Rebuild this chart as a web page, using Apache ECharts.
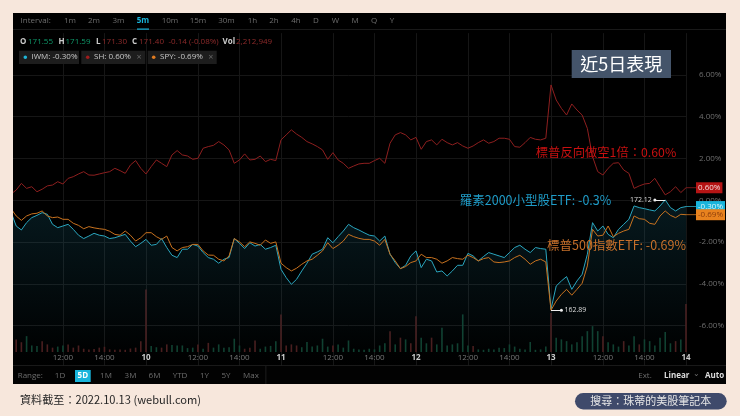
<!DOCTYPE html>
<html>
<head>
<meta charset="utf-8">
<style>body{margin:0;background:#f7e7dc}#main{width:740px;height:416px}</style>
</head>
<body>
<div id="main"></div>
<script src="https://cdn.jsdelivr.net/npm/echarts@6/dist/echarts.min.js"></script>
<script>
var chart = echarts.init(document.getElementById('main'));

// percent change, one reading per 15 minutes
var shValues = [0.30,0.49,0.81,0.57,0.65,0.41,0.53,0.69,0.73,0.89,0.78,1.05,1.13,1.26,1.37,1.21,1.20,1.26,1.32,1.37,1.53,1.42,1.29,1.69,1.90,1.53,1.26,
    1.61,1.93,1.77,1.61,2.17,2.38,2.17,2.12,1.96,2.01,2.49,2.57,2.63,2.81,2.65,2.41,1.77,1.93,2.22,1.93,1.96,2.12,1.85,1.96,1.90,
    2.89,3.13,3.37,3.17,3.01,2.81,2.70,2.57,2.41,1.96,2.28,1.93,1.77,1.53,1.64,1.74,1.77,1.77,1.90,2.01,1.77,2.73,3.13,3.24,3.13,2.89,
    3.01,2.44,2.81,2.89,2.65,2.92,2.76,2.65,2.76,2.60,2.49,2.60,2.76,2.89,2.73,2.81,2.97,2.97,2.92,2.57,2.54,2.76,3.01,2.92,2.89,2.97,
    5.52,4.80,4.40,4.08,4.61,4.32,4.08,3.44,2.09,1.37,1.21,1.53,1.77,1.80,1.45,1.29,0.57,0.69,0.78,0.81,1.05,0.65,0.26,0.41,0.65,0.37,0.60];
var spyValues = [-0.40,-0.75,-0.96,-0.75,-0.65,-0.62,-0.51,-0.75,-0.83,-0.80,-0.91,-0.91,-1.10,-1.20,-1.36,-1.26,-1.32,-1.36,-1.39,-1.48,-1.63,-1.67,-1.47,-1.67,-1.95,-1.79,-1.55,
    -1.55,-1.74,-1.87,-1.71,-2.26,-2.42,-2.26,-2.22,-2.11,-2.11,-2.42,-2.62,-2.63,-2.82,-2.90,-2.66,-1.83,-1.99,-2.22,-1.99,-2.06,-2.15,-1.90,-2.06,-1.99,
    -3.01,-3.22,-3.38,-3.25,-3.06,-2.90,-2.82,-2.63,-2.42,-2.03,-2.31,-2.15,-1.95,-1.63,-1.74,-1.82,-1.87,-1.87,-1.95,-2.15,-1.87,-2.58,-2.90,-3.27,-3.17,-2.98,
    -2.90,-2.58,-2.74,-2.74,-2.82,-3.01,-2.90,-2.74,-2.79,-2.82,-2.63,-2.74,-2.90,-2.79,-2.74,-2.95,-2.98,-2.95,-2.90,-2.74,-2.63,-2.82,-3.06,-2.90,-2.82,-2.95,
    -5.26,-4.82,-4.50,-4.26,-4.54,-4.26,-3.97,-3.14,-1.39,-1.71,-1.67,-1.23,-1.74,-1.58,-1.47,-1.39,-0.75,-0.88,-0.91,-1.10,-1.15,-0.75,-0.51,-0.72,-0.83,-0.67,-0.69];
var iwmValues = [-0.56,-1.23,-1.42,-1.07,-0.83,-0.72,-0.59,-0.67,-1.15,-1.31,-1.23,-1.15,-1.39,-1.67,-1.83,-1.71,-1.58,-1.67,-1.71,-1.83,-1.79,-1.71,-1.63,-1.95,-2.22,-2.06,-1.87,
    -2.15,-2.11,-1.83,-2.26,-2.63,-2.74,-2.34,-2.34,-2.11,-2.19,-2.50,-2.74,-2.82,-3.01,-2.82,-2.74,-1.83,-2.06,-2.31,-2.03,-2.19,-2.11,-2.34,-2.26,-2.15,
    -3.30,-3.70,-4.02,-3.78,-3.38,-3.01,-2.58,-2.47,-2.34,-1.79,-2.03,-1.74,-1.47,-1.15,-1.31,-1.42,-1.55,-1.67,-1.71,-1.95,-1.71,-2.58,-2.98,-3.27,-3.11,-2.66,
    -2.42,-3.22,-2.82,-2.90,-3.43,-3.38,-3.62,-3.38,-3.11,-3.11,-2.54,-2.66,-2.90,-2.69,-2.50,-2.58,-2.66,-2.74,-2.50,-2.26,-2.15,-2.34,-2.50,-2.26,-2.31,-2.34,
    -5.21,-4.10,-3.86,-3.65,-4.26,-3.86,-3.54,-2.58,-1.07,-1.47,-1.23,-1.63,-1.79,-1.39,-1.15,-0.91,-0.27,-0.35,-0.40,-0.46,-0.51,-0.27,0.02,-0.35,-0.51,-0.35,-0.30];

// volume in millions of shares, and which bars closed down
var volumes = [.31,.58,.45,.73,.30,.28,.50,.35,.20,.25,.30,.35,.20,.30,.15,.12,.14,.20,.24,.12,.10,.12,.10,.16,.20,.50,2.88,
    .28,.22,.20,.35,.32,.30,.30,.18,.20,.35,.15,.42,.20,.35,.20,.22,.61,.30,.15,.20,.53,.15,.25,.28,.50,
    1.73,.30,.35,.30,.22,.46,.25,.30,.61,.25,.30,.35,.20,.53,.15,.12,.10,.15,.12,.30,.40,.96,.35,.66,.58,.40,
    1.65,.66,.40,.66,.35,1.12,.30,.35,.40,1.73,.30,.28,.12,.10,.15,.12,.20,.18,.35,.25,.15,.12,.46,.10,.12,.25,
    1.80,.66,.58,.50,.35,.45,.73,.96,1.19,.96,.73,.45,.35,.25,.50,.30,.73,.35,.58,.50,.30,.66,.92,.40,.50,.58,2.21];
var downBars = [0,1,2,6,7,8,11,12,13,14,15,16,17,18,19,20,21,22,23,24,25,26,29,30,36,38,45,46,47,52,53,54,55,62,73,75,77,78,81,89,104,114,118,121,128,130];

var tickSlots = [10,18,26,36,44,52,62,70,78,88,96,104,114,122,130];
var tickLabels = ['12:00','14:00','10','12:00','14:00','11','12:00','14:00','12','12:00','14:00','13','12:00','14:00','14'];

var intervals = ['1m','2m','3m','5m','10m','15m','30m','1h','2h','4h','D','W','M','Q','Y'];
var intervalX = [70,94,118.5,143,170,198,226.5,252.5,274,296,316,335.5,355,374,392];
var ranges = ['1D','5D','1M','3M','6M','YTD','1Y','5Y','Max'];
var rangeX = [60,82.8,106,130.5,154.5,180,204.5,226,251];

var slots = shValues.map(function (v, i) { return i; });
var font = "'Open Sans','Noto Sans CJK TC',sans-serif";
var cjk = "'Noto Sans CJK TC',sans-serif";

function tickIndex(i) { return tickSlots.indexOf(i) >= 0; }

function text(str, x, y, color, size, weight, align, family) {
    return {
        type: 'text', x: x, y: y, z: 60, silent: true,
        style: {
            text: str, fill: color, fontSize: size, fontWeight: weight || 'normal',
            fontFamily: family || font, align: align || 'left', verticalAlign: 'middle'
        }
    };
}
function rect(x, y, w, h, color, z, r) {
    return { type: 'rect', z: z, silent: true, shape: { x: x, y: y, width: w, height: h, r: r || 0 }, style: { fill: color } };
}
function dot(x, y, color) {
    return { type: 'circle', z: 60, silent: true, shape: { cx: x, cy: y, r: 1.8 }, style: { fill: color } };
}

var green = '#0f9a6b', red = '#8f2b2b', gray = '#6e6e6e';
var elements = [
    rect(13, 13, 713, 371, '#000', -10),
    rect(0, 13, 13, 371, '#f7e7dc', 50),
    rect(13, 365.5, 713, 18.5, '#020202', 50),
    rect(13, 29, 713, 0.8, '#222', 55),
    rect(13, 365, 713, 0.8, '#222', 55),
    rect(265.5, 366, 0.8, 18, '#222', 55),
    rect(137, 28.5, 12, 1.2, '#19b5dc', 56),
    text('Interval:', 20.5, 21, gray, 8),

    text('O', 20, 42, '#ccc', 8, 'bold'), text('171.55', 28, 42, green, 8),
    text('H', 58.5, 42, '#ccc', 8, 'bold'), text('171.59', 65.5, 42, green, 8),
    text('L', 96, 42, '#ccc', 8, 'bold'), text('171.30', 102, 42, red, 8),
    text('C', 132, 42, '#ccc', 8, 'bold'), text('171.40', 139, 42, red, 8),
    text('-0.14 (-0.08%)', 168.5, 42, red, 8),
    text('Vol', 222.5, 42, '#ccc', 8, 'bold'), text('2,212,949', 236, 42, red, 8),

    rect(19, 50.7, 60, 13.3, '#1d1d1d', 55), rect(81.3, 50.7, 64, 13.3, '#1d1d1d', 55), rect(147.7, 50.7, 69, 13.3, '#1d1d1d', 55),
    dot(25.3, 57.2, '#1fb4d6'), dot(87.7, 57.2, '#a01c1c'), dot(153.7, 57.2, '#e07b20'),
    text('IWM: -0.30%', 31.5, 57, '#c8c8c8', 8), text('SH: 0.60%', 94, 57, '#c8c8c8', 8), text('×', 139, 57, '#666', 9, 'normal', 'center'),
    text('SPY: -0.69%', 160, 57, '#c8c8c8', 8), text('×', 210.7, 57, '#666', 9, 'normal', 'center'),

    rect(571.7, 50, 99.3, 28, '#44546a', 58),
    text('近5日表現', 621.3, 64, '#fff', 18, 'normal', 'center', cjk),
    text('標普反向做空1倍：0.60%', 606, 152.5, '#c81010', 12.3, 'normal', 'center', cjk),
    text('羅素2000小型股ETF: -0.3%', 535.5, 200, '#1f9cc8', 12.5, 'normal', 'center', cjk),
    text('標普500指數ETF: -0.69%', 616.5, 245, '#c8702a', 12.5, 'normal', 'center', cjk),

    text('Range:', 17.7, 375.7, gray, 8),
    rect(75, 370, 15.7, 12, '#19b5dc', 56),
    text('Ext.', 645, 375.7, gray, 8, 'normal', 'center'),
    text('Linear', 676.7, 375.7, '#ddd', 8, 'bold', 'center'),
    text('⌄', 696, 374, gray, 8, 'normal', 'center'),
    text('Auto', 714.5, 375.7, '#ddd', 8, 'bold', 'center'),

    text('資料截至：2022.10.13 (webull.com)', 20, 399.5, '#262626', 11.1, 'normal', 'left', cjk),
    rect(575, 393, 151.7, 16.5, '#3f4a6b', 58, 8.2),
    text('搜尋：珠蒂的美股筆記本', 650.8, 401, '#e6e6e6', 11, 'normal', 'center', cjk)
];
intervals.forEach(function (name, i) {
    elements.push(text(name, intervalX[i], 21, name === '5m' ? '#19b5dc' : gray, 8, name === '5m' ? 'bold' : 'normal', 'center'));
});
ranges.forEach(function (name, i) {
    elements.push(text(name, rangeX[i], 375.7, name === '5D' ? '#fff' : gray, 8, name === '5D' ? 'bold' : 'normal', 'center'));
});

function endLabel(str, bg, color) {
    return {
        show: true, formatter: str, distance: 10, backgroundColor: bg, color: color,
        fontSize: 8, fontFamily: font, padding: [2, 2, 1, 2]
    };
}
function peakLine(slotFrom, slotTo, value, label) {
    return {
        silent: true, animation: false, symbol: ['none', 'circle'], symbolSize: 3,
        lineStyle: { color: '#eee', width: 1, type: 'solid' },
        label: { show: true, position: 'end', formatter: label, color: '#ddd', fontSize: 7, fontFamily: font, distance: 3 },
        data: [[{ coord: [slotFrom, value] }, { coord: [slotTo, value] }]]
    };
}

chart.setOption({
    backgroundColor: '#f7e7dc',
    animation: false,
    graphic: { elements: elements },
    grid: [
        { left: 11, width: 675, top: 33.1, height: 334.4 },
        { left: 11, width: 675, top: 286.8, height: 65.2 }
    ],
    xAxis: [{
        type: 'category', gridIndex: 0, data: slots, boundaryGap: false,
        axisLine: { show: false }, axisTick: { show: false }, axisLabel: { show: false },
        splitLine: { show: true, interval: function (i) { return tickIndex(i); }, lineStyle: { color: '#161616', width: 1 } }
    }, {
        type: 'category', gridIndex: 1, data: slots, boundaryGap: false,
        axisLine: { show: false }, axisTick: { show: false }, splitLine: { show: false },
        axisLabel: {
            interval: function (i) { return tickIndex(i); },
            margin: 2, fontSize: 8, fontFamily: font, color: '#777',
            formatter: function (value, i) {
                var name = tickLabels[tickSlots.indexOf(i)];
                return name.length < 3 ? '{day|' + name + '}' : name;
            },
            rich: { day: { color: '#ccc', fontSize: 8, fontWeight: 'bold', fontFamily: font } }
        }
    }],
    yAxis: [{
        type: 'value', gridIndex: 0, position: 'right', min: -8, max: 8, interval: 2,
        axisLine: { show: false }, axisTick: { show: false },
        axisLabel: {
            margin: 13, fontSize: 8, fontFamily: font, color: '#6e6e6e',
            formatter: function (v) { return Math.abs(v) === 8 ? '' : v.toFixed(2) + '%'; }
        },
        splitLine: { show: true, showMinLine: false, showMaxLine: false, lineStyle: { color: '#161616', width: 1 } }
    }, {
        type: 'value', gridIndex: 1, min: 0, max: 3, show: false
    }],
    series: [{
        name: 'Volume', type: 'bar', xAxisIndex: 1, yAxisIndex: 1, barWidth: 1.6,
        data: volumes.map(function (v, i) {
            return { value: v, itemStyle: { color: downBars.indexOf(i) >= 0 ? '#4a1d1d' : '#10402f' } };
        })
    }, {
        name: 'IWM', type: 'line', data: iwmValues, showSymbol: false, symbol: 'none',
        lineStyle: { color: '#2aa6bf', width: 1 },
        areaStyle: {
            origin: 'start',
            color: new echarts.graphic.LinearGradient(0, 0, 0, 1, [
                { offset: 0, color: 'rgba(30,120,145,0.30)' },
                { offset: 0.9, color: 'rgba(30,120,145,0.02)' },
                { offset: 1, color: 'rgba(30,120,145,0)' }
            ])
        },
        endLabel: endLabel('-0.30%', '#19b5dc', '#d9f4fa'),
        markLine: peakLine(126, 124, iwmValues[126], '172.12')
    }, {
        name: 'SH', type: 'line', data: shValues, showSymbol: false, symbol: 'none',
        lineStyle: { color: '#8e1f1f', width: 1 },
        endLabel: endLabel('0.60%', '#b51414', '#f2dada')
    }, {
        name: 'SPY', type: 'line', data: spyValues, showSymbol: false, symbol: 'none',
        lineStyle: { color: '#c8721f', width: 1 },
        endLabel: endLabel('-0.69%', '#e8821e', '#8a3c0c'),
        markLine: peakLine(104, 106, spyValues[104], '162.89')
    }]
});

// short leaders from the last point to the value tags
var leaders = [[shValues, '#8e1f1f'], [iwmValues, '#2aa6bf'], [spyValues, '#c8721f']];
chart.setOption({
    graphic: {
        elements: leaders.map(function (item, i) {
            var y = chart.convertToPixel({ yAxisIndex: 0 }, item[0][item[0].length - 1]);
            return { id: 'leader' + i, type: 'rect', z: 40, silent: true, shape: { x: 686, y: y - 0.4, width: 10, height: 0.8 }, style: { fill: item[1] } };
        })
    }
});
</script>
</body>
</html>
